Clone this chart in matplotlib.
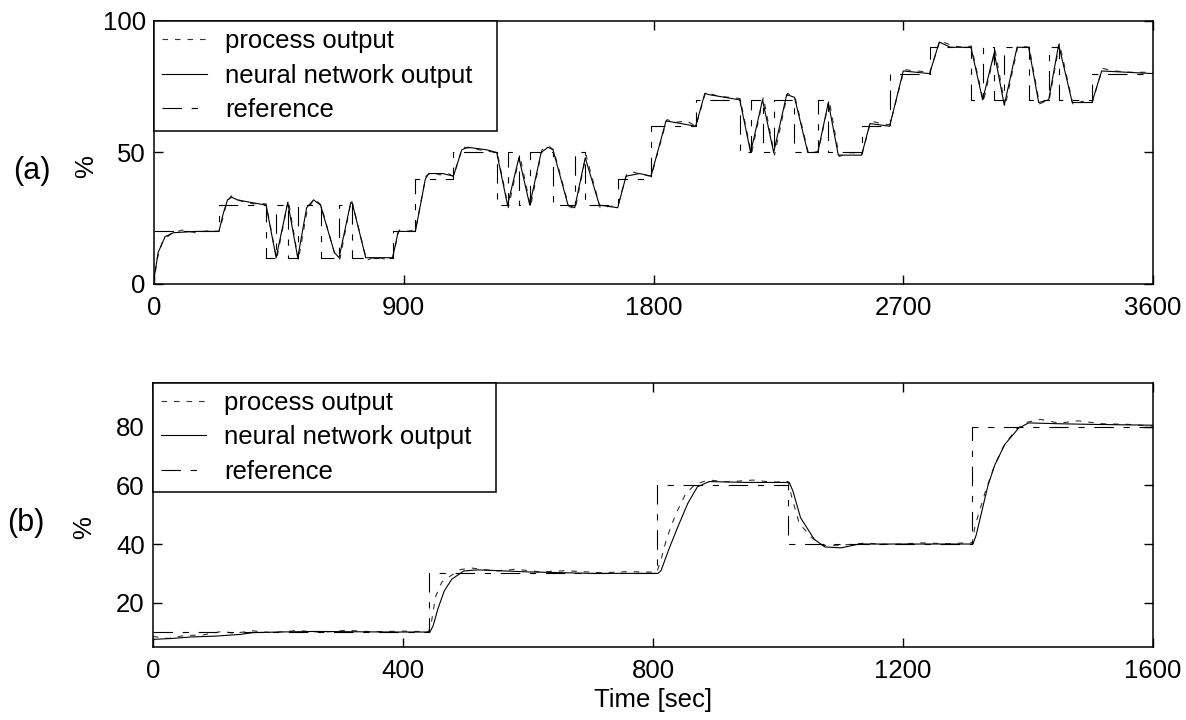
import matplotlib
matplotlib.use('Agg')
import matplotlib.pyplot as plt

plt.rcParams['font.family'] = ['Liberation Sans', 'DejaVu Sans']
plt.rcParams['font.size'] = 18.5
plt.rcParams['lines.scale_dashes'] = False

# (a) long run, 0-3600 s
ref_a_times = [0, 234, 404, 440, 482, 518, 600, 667, 715, 860,
               942, 1079, 1235, 1274, 1315, 1354, 1438, 1516, 1554, 1671,
               1791, 1952, 2111, 2150, 2193, 2233, 2308, 2392, 2430, 2550,
               2651, 2795, 2944, 2986, 3028, 3064, 3152, 3224, 3260, 3380]
ref_a_levels = [20, 30, 10, 30, 10, 30, 10, 30, 10, 20,
                40, 50, 30, 50, 30, 50, 30, 50, 30, 40,
                60, 70, 50, 70, 50, 70, 50, 70, 50, 60,
                80, 90, 70, 90, 70, 90, 70, 90, 70, 80]

nn_a = [(0, 2), (15, 12), (40, 18), (70, 19.5), (150, 20), (234, 20), (250, 27), (265, 32),
        (280, 33), (300, 32), (350, 31), (404, 30), (440, 10), (482, 31), (518, 10), (550, 29),
        (575, 32), (600, 30), (650, 12), (667, 10), (709, 31), (715, 30.5), (763, 10), (860, 10),
        (880, 20), (942, 20), (978, 40), (990, 42), (1040, 42), (1079, 41), (1109, 51), (1130, 52),
        (1200, 51), (1235, 50), (1274, 30), (1315, 48), (1354, 30), (1395, 50), (1420, 52),
        (1438, 51), (1492, 30), (1516, 29), (1554, 48), (1605, 30), (1671, 29), (1701, 41),
        (1750, 42), (1791, 41), (1845, 62), (1900, 61), (1952, 60), (1985, 72.5), (2000, 72),
        (2111, 70), (2150, 50), (2193, 70), (2233, 50), (2280, 72), (2308, 71), (2356, 50),
        (2392, 50), (2430, 69), (2466, 49), (2550, 49), (2580, 61), (2651, 60), (2700, 81),
        (2795, 80), (2830, 92), (2870, 90), (2944, 90), (2986, 70), (3028, 88), (3064, 68),
        (3110, 90), (3152, 90), (3188, 69), (3224, 70), (3260, 91), (3309, 69), (3380, 69),
        (3415, 81), (3600, 80)]

proc_a = [(0, 0), (10, 9), (30, 16), (60, 19), (100, 20.5), (150, 19.5), (200, 20.3), (234, 20),
          (248, 25), (262, 31), (278, 33.5), (300, 32), (330, 31), (360, 30.5), (404, 30.5),
          (442, 9.5), (484, 32), (520, 9), (552, 28), (578, 32.5), (602, 30), (652, 11), (670, 9.5),
          (711, 32), (717, 30), (766, 9), (800, 10.5), (830, 9.5), (860, 10), (883, 20.5), (910, 20),
          (942, 20.5), (980, 41), (1000, 42.5), (1030, 41.5), (1060, 42), (1079, 41), (1112, 52),
          (1150, 51.5), (1200, 50.5), (1237, 50), (1277, 29), (1318, 49), (1357, 29.5), (1398, 51),
          (1422, 52.5), (1440, 51), (1495, 29.5), (1518, 28.5), (1557, 49), (1608, 29), (1640, 29.5),
          (1672, 30), (1704, 42), (1730, 42.5), (1760, 41.5), (1792, 41), (1848, 62.5), (1880, 61.5),
          (1920, 62), (1953, 60), (1988, 73), (2030, 71.5), (2070, 71), (2112, 70.5), (2153, 49.5),
          (2196, 71), (2236, 49), (2283, 72.5), (2310, 71), (2359, 49.5), (2394, 50.5), (2433, 70),
          (2469, 48.5), (2510, 50), (2552, 49.5), (2583, 62), (2620, 61), (2652, 60.5), (2703, 81.5),
          (2750, 81), (2796, 80.5), (2832, 92.5), (2880, 90.5), (2920, 90), (2945, 90.5),
          (2989, 69.5), (3031, 89), (3067, 67.5), (3113, 90.5), (3154, 90), (3191, 68.5),
          (3226, 70), (3263, 91.5), (3312, 68), (3345, 69.5), (3381, 69), (3418, 82), (3460, 81),
          (3520, 80.5), (3600, 80.5)]

# (b) short run, 0-1600 s
ref_b_times = [0, 441, 807, 1016, 1311]
ref_b_levels = [10, 30, 60, 40, 80]

nn_b = [(0, 7.5), (30, 7.8), (60, 8.3), (100, 8.6), (140, 9.2), (160, 9.8), (200, 10), (260, 10.2),
        (320, 10.1), (380, 10), (443, 10), (448, 12), (456, 18), (466, 24), (478, 28), (497, 30.8),
        (520, 31.2), (600, 30.5), (700, 30), (808, 30), (813, 31), (825, 38), (840, 46), (856, 54),
        (871, 59.5), (890, 61.3), (950, 61), (1018, 61), (1024, 58), (1036, 49), (1058, 41.6),
        (1075, 39), (1101, 38.7), (1130, 40), (1200, 40), (1312, 40), (1317, 43), (1336, 60),
        (1347, 67), (1363, 74), (1385, 79.5), (1401, 81.3), (1450, 81), (1500, 80.8), (1600, 80.5)]

proc_b = [(0, 8.5), (25, 7.8), (50, 8.8), (80, 9), (110, 10.2), (130, 9.6), (160, 10.4), (190, 9.8),
          (230, 10.5), (270, 9.9), (310, 10.6), (350, 10.1), (400, 10.3), (441, 10.1), (446, 14),
          (452, 22), (462, 27), (475, 29), (492, 31.3), (510, 31.8), (550, 30.8), (580, 31.4),
          (620, 30.5), (660, 30.9), (720, 30.2), (760, 30.6), (806, 30.4), (812, 34), (822, 42),
          (836, 50), (852, 57), (868, 60.5), (890, 61.8), (920, 61.2), (960, 61.8), (990, 61.1),
          (1016, 61.3), (1022, 56), (1034, 47), (1055, 42), (1072, 39.5), (1100, 39.6), (1140, 40.3),
          (1180, 39.8), (1230, 40.4), (1270, 40.1), (1311, 40.5), (1315, 46), (1332, 58), (1345, 66),
          (1360, 73), (1380, 79), (1398, 81.5), (1420, 82.5), (1450, 81.2), (1480, 82), (1520, 81),
          (1560, 80.8), (1600, 80.2)]

proc_style = dict(color='#333333', lw=0.8, dashes=(4, 5))
nn_style = dict(color='black', lw=0.8)
ref_style = dict(color='black', lw=0.8, dashes=(14, 7, 4.5, 7))


def panel(ax, ref_t, ref_v, t_end, nn, proc):
    ax.plot([p[0] for p in proc], [p[1] for p in proc], label='process output', **proc_style)
    ax.plot([p[0] for p in nn], [p[1] for p in nn], label='neural network output', **nn_style)
    ax.step(ref_t + [t_end], ref_v + [ref_v[-1]], where='post', label='reference', **ref_style)
    ax.set_xlim(0, t_end)
    ax.tick_params(direction='in', top=True, right=True, length=6.5, width=1,
                   labelsize=18.5, pad=9)
    ax.tick_params(axis='y', pad=6)
    for s in ax.spines.values():
        s.set_linewidth(1.1)
    leg = ax.legend(loc='upper left', bbox_to_anchor=(0, 0, 0.343, 1), mode='expand',
                    borderaxespad=0, fancybox=False, edgecolor='black', framealpha=1,
                    fontsize=18.5, handlelength=1.75, handletextpad=0.7,
                    borderpad=0.33, labelspacing=0.4)
    leg.get_frame().set_linewidth(1.1)


fig = plt.figure(figsize=(11.86, 7.2), dpi=100)
ax1 = fig.add_axes([154 / 1186, 1 - 284 / 720, 999 / 1186, 263 / 720])
ax2 = fig.add_axes([153 / 1186, 1 - 646.7 / 720, 1000 / 1186, 264 / 720])

panel(ax1, ref_a_times, ref_a_levels, 3600, nn_a, proc_a)
ax1.set_ylim(0, 100)
ax1.set_xticks([0, 900, 1800, 2700, 3600])
ax1.set_yticks([0, 50, 100])
ax1.set_ylabel('%', va='center', fontsize=18.5)
ax1.yaxis.set_label_coords(-0.068, 0.445)

panel(ax2, ref_b_times, ref_b_levels, 1600, nn_b, proc_b)
ax2.set_ylim(5, 95)
ax2.set_xticks([0, 400, 800, 1200, 1600])
ax2.set_yticks([20, 40, 60, 80])
ax2.set_ylabel('%', va='center', fontsize=18.5)
ax2.yaxis.set_label_coords(-0.0687, 0.453)
ax2.set_xlabel('Time [sec]', va='center', fontsize=18.5)
ax2.xaxis.set_label_coords(0.5, -0.202)

fig.text(32 / 1186, 1 - 171 / 720, '(a)', ha='center', va='center', fontsize=22)
fig.text(26 / 1186, 1 - 523 / 720, '(b)', ha='center', va='center', fontsize=22)

fig.savefig('out.png', dpi=100)
